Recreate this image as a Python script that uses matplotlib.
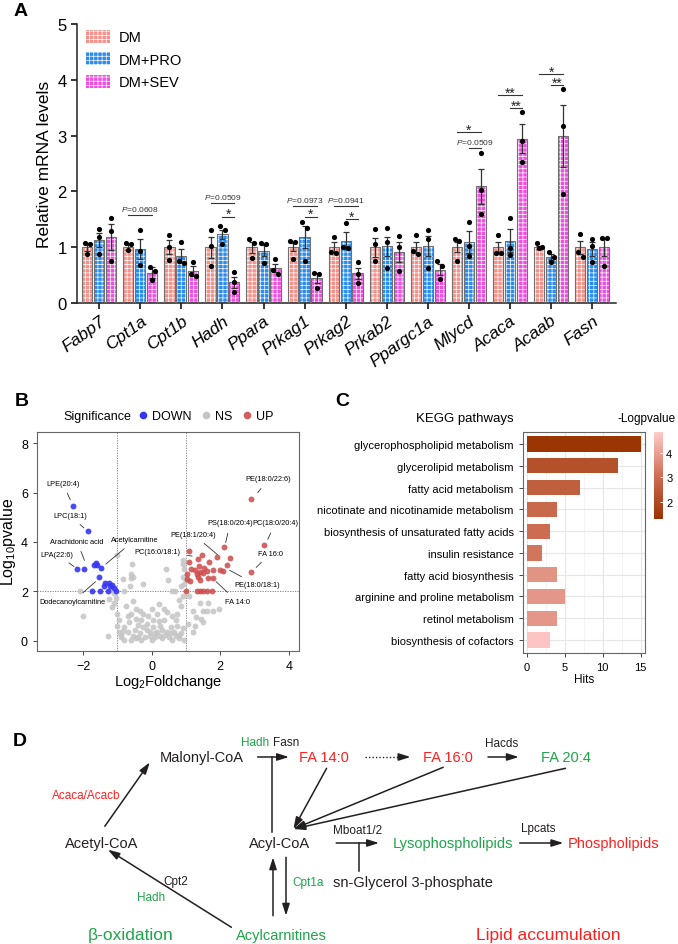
import matplotlib.pyplot as plt
import numpy as np
from matplotlib.patches import Patch
from matplotlib.lines import Line2D
from matplotlib.colors import LinearSegmentedColormap, Normalize
from matplotlib.cm import ScalarMappable

plt.rcParams['font.family'] = ['Liberation Sans', 'DejaVu Sans']
plt.rcParams['mathtext.fontset'] = 'custom'
plt.rcParams['mathtext.rm'] = 'Liberation Sans'
plt.rcParams['mathtext.it'] = 'Liberation Sans:italic'
plt.rcParams['hatch.linewidth'] = 0.5

# ---------------- panel A data ----------------
genes = ['Fabp7', 'Cpt1a', 'Cpt1b', 'Hadh', 'Ppara', 'Prkag1', 'Prkag2', 'Prkab2',
         'Ppargc1a', 'Mlycd', 'Acaca', 'Acaab', 'Fasn']

dm_mean = [1.0, 1.0, 1.0, 1.0, 1.0, 1.0, 1.0, 1.0, 1.0, 1.0, 1.0, 1.0, 1.0]
dm_sem = [0.07, 0.05, 0.13, 0.19, 0.1, 0.07, 0.09, 0.17, 0.1, 0.09, 0.09, 0.03, 0.12]
dm_pts = [[1.07, 1.05, 0.88], [1.07, 1.05, 0.95], [1.22, 1.0, 0.77], [1.3, 1.02, 0.67],
          [1.15, 1.07, 0.8], [1.12, 1.1, 0.78], [1.18, 0.92, 0.9], [1.33, 1.05, 0.75],
          [1.21, 0.93, 0.87], [1.15, 1.12, 0.76], [1.21, 0.89, 0.89], [1.07, 1.0, 0.98],
          [1.24, 0.91, 0.82]]

pro_mean = [1.13, 0.97, 0.84, 1.23, 0.94, 1.18, 1.12, 1.02, 1.02, 1.09, 1.12, 0.82, 0.97]
pro_sem = [0.12, 0.18, 0.13, 0.08, 0.1, 0.2, 0.16, 0.17, 0.18, 0.2, 0.21, 0.05, 0.12]
pro_pts = [[1.33, 1.18, 0.88], [1.3, 0.93, 0.68], [1.09, 0.75, 0.72], [1.38, 1.3, 1.05],
           [1.08, 1.05, 0.72], [1.45, 1.35, 0.75], [1.43, 1.0, 0.98], [1.35, 1.1, 0.62],
           [1.3, 1.14, 0.62], [1.46, 1.02, 0.85], [1.53, 0.98, 0.86], [0.91, 0.83, 0.73],
           [1.15, 1.02, 0.74]]

sev_mean = [1.18, 0.54, 0.57, 0.37, 0.63, 0.44, 0.53, 0.92, 0.6, 2.09, 2.94, 2.99, 1.0]
sev_sem = [0.23, 0.1, 0.09, 0.1, 0.07, 0.09, 0.1, 0.18, 0.1, 0.32, 0.26, 0.56, 0.15]
sev_pts = [[1.52, 1.29, 0.76], [0.65, 0.57, 0.42], [0.73, 0.52, 0.48], [0.55, 0.37, 0.2],
           [0.78, 0.6, 0.52], [0.54, 0.52, 0.27], [0.73, 0.52, 0.35], [1.2, 1.0, 0.58],
           [0.76, 0.67, 0.43], [2.68, 2.02, 1.6], [3.42, 2.91, 2.52], [3.84, 3.18, 1.95],
           [1.17, 1.17, 0.67]]

# (gene index, group from, group to, line height, label)
sig = [(1, 0, 2, 1.57, r'$P$=0.0608'),
       (3, 0, 2, 1.79, r'$P$=0.0509'), (3, 1, 2, 1.55, '*'),
       (5, 0, 2, 1.73, r'$P$=0.0973'), (5, 1, 2, 1.55, '*'),
       (6, 0, 2, 1.73, r'$P$=0.0941'), (6, 1, 2, 1.50, '*'),
       (9, 0, 2, 3.06, '*'), (9, 1, 2, 2.77, r'$P$=0.0509'),
       (10, 0, 2, 3.73, '**'), (10, 1, 2, 3.49, '**'),
       (11, 0, 2, 4.11, '*'), (11, 1, 2, 3.90, '**')]

# ---------------- panel B data ----------------
down_x = [-2.29, -1.87, -2.19, -1.97, -1.64, -1.6, -1.69, -1.47, -1.54, -1.36, -1.26, -1.16,
          -1.39, -1.22, -1.75, -1.51, -1.27, -1.04, -1.1]
down_y = [5.47, 4.43, 2.89, 2.89, 3.15, 3.08, 3.06, 2.94, 2.59, 2.34, 2.34, 2.27,
          2.23, 2.2, 2.01, 2.01, 2.01, 2.0, 2.15]

up_x = [2.9, 3.29, 2.9, 2.1, 1.92, 2.29, 2.21, 1.1, 1.46, 1.36, 1.68, 1.1, 1.39, 1.53, 1.16,
        1.8, 2.0, 2.07, 1.61, 1.41, 1.32, 1.02, 1.65, 1.78, 1.41, 1.12, 1.36, 1.02, 0.99,
        1.32, 1.41, 1.51, 1.61, 1.75, 1.5, 1.25]
up_y = [5.74, 3.89, 2.79, 3.78, 3.4, 3.36, 3.06, 3.62, 3.48, 3.31, 3.17, 3.2, 3.04, 2.94, 2.9,
        2.88, 2.88, 2.83, 2.83, 2.77, 2.7, 2.7, 2.53, 2.53, 2.47, 2.43, 2.6, 2.5, 2.02,
        2.02, 2.02, 2.02, 2.02, 2.02, 2.75, 2.85]

ns_x = [-2.1, -2.0, -1.27, -1.2, -1.1, -1.05, -1.15, -1.0, -0.95, -1.0, -0.95,
        -1.0, -0.83, -0.6, -0.62, -0.82, -0.6, -0.55, -0.25, -0.58, 0.43, 0.48, 0.68, 0.6,
        -0.75, -0.55, -0.45, -0.35, -0.45, -0.65, -0.8, -0.7, -0.55, -0.35, -0.15, -0.05,
        0.15, 0.25, 0.35, 0.45, 0.35, 0.15, 0.05, -0.15, -0.25, 0.05, 0.45, 0.65, 0.75,
        0.7, 0.75, 0.85, 0.8, 0.9, 0.95, 0.9, 0.95, 0.9, 0.92, 1.0, 0.85,
        1.2, 1.3, 1.5, 1.45, 1.6, 1.8, 1.95, 1.65, 1.4, 1.1, 1.25, 1.5, 1.2, 1.05,
        -0.9, -0.8, -0.6, -0.45, -0.3, -0.2, 0.0, 0.1, 0.3, 0.5, 0.6, 0.8, 0.85, 0.95,
        -0.85, -0.5, 0.3, 0.55, -0.4, 0.2, -0.1, 0.6, -0.25, 0.0, -0.6, -0.7, -0.3,
        0.25, 0.4, -0.05, 0.7, 0.9, -0.9, -0.4, 0.1, 0.55, 0.8, -1.1, -1.25, 0.2]
ns_y = [2.0, 1.0, 0.2, 2.05, 1.95, 1.75, 1.35, 1.1, 0.85, 0.6, 0.35,
        3.47, 2.5, 2.55, 2.2, 2.0, 2.7, 2.6, 2.3, 3.1, 2.9, 2.45, 2.03, 2.0,
        1.4, 1.6, 1.3, 1.2, 0.9, 0.75, 0.55, 0.35, 0.2, 0.3, 0.45, 0.2,
        0.35, 0.6, 0.85, 1.15, 1.3, 1.1, 0.85, 0.7, 0.55, 0.55, 0.35, 0.35, 0.6,
        0.85, 1.1, 1.4, 1.65, 1.8, 2.3, 2.6, 2.9, 3.1, 3.25, 2.45, 2.2,
        1.2, 0.95, 1.2, 0.9, 1.2, 1.2, 1.3, 1.55, 1.55, 1.8, 0.6, 0.75, 0.35, 0.7,
        0.15, 0.05, 0.05, 0.1, 0.05, 0.15, 0.05, 0.15, 0.1, 0.15, 0.05, 0.1, 0.3, 0.05,
        0.4, 0.45, 0.45, 0.55, 0.65, 0.8, 1.0, 1.0, 1.1, 1.3, 1.1, 1.0, 0.85,
        0.2, 0.25, 0.35, 0.2, 0.5, 0.25, 0.15, 0.3, 0.3, 0.25, 1.55, 1.7, 1.5]

# label, text position, arrow tip
b_labels = [('LPE(20:4)', (-2.6, 6.38), (-2.36, 5.65)),
            ('LPC(18:1)', (-2.39, 5.07), (-1.95, 4.53)),
            ('Arachidonic acid', (-2.18, 4.03), (-1.95, 3.2)),
            ('LPA(22:6)', (-2.76, 3.51), (-2.24, 2.97)),
            ('Acetylcarnitine', (-0.49, 4.09), (-1.37, 3.07)),
            ('Dodecanoylcarnitine', (-2.31, 1.58), (-1.61, 2.43)),
            ('PC(16:0/18:1)', (0.17, 3.62), (1.22, 3.42)),
            ('PE(18:1/20:4)', (1.22, 4.3), (1.95, 3.45)),
            ('PS(18:0/20:4)', (2.29, 4.77), (2.15, 3.92)),
            ('PE(18:0/22:6)', (3.41, 6.55), (3.07, 5.95)),
            ('PC(18:0/20:4)', (3.61, 4.77), (3.37, 4.05)),
            ('FA 16:0', (3.48, 3.55), (3.02, 2.93)),
            ('PE(18:0/18:1)', (3.07, 2.26), (2.24, 2.88)),
            ('FA 14:0', (2.5, 1.59), (1.85, 2.43))]

# ---------------- panel C data ----------------
pathways = ['glycerophospholipid metabolism', 'glycerolipid metabolism', 'fatty acid metabolism',
            'nicotinate and nicotinamide metabolism', 'biosynthesis of unsaturated fatty acids',
            'insulin resistance', 'fatty acid biosynthesis', 'arginine and proline metabolism',
            'retinol metabolism', 'biosynthesis of cofactors']
hits = [15, 12, 7, 4, 3, 2, 4, 5, 4, 3]
neglogp = [1.35, 2.2, 2.6, 2.9, 3.0, 3.2, 3.8, 3.85, 3.85, 4.75]

fig = plt.figure(figsize=(6.78, 9.45), dpi=100)
W, H = 678.0, 945.0


def fbox(l, t, r, b):
    return [l / W, 1 - b / H, (r - l) / W, (b - t) / H]


# ================= A =================
axA = fig.add_axes(fbox(77, 25, 616, 304))
x = np.arange(len(genes))
off, bw = 0.29, 0.25
groups = [('DM', dm_mean, dm_sem, dm_pts, '#f3928b'),
          ('DM+PRO', pro_mean, pro_sem, pro_pts, '#2a8cf0'),
          ('DM+SEV', sev_mean, sev_sem, sev_pts, '#ee4fe0')]
hatch = '++++'
handles = []
for k, (name, m, s, pts, col) in enumerate(groups):
    xs = x + (k - 1) * off
    axA.bar(xs, m, bw, color=col, edgecolor='white', hatch=hatch, lw=0, zorder=2)
    axA.bar(xs, m, bw, facecolor='none', edgecolor='#707070', lw=0.8, zorder=3)
    axA.errorbar(xs, m, yerr=s, fmt='none', ecolor='#333333', elinewidth=0.9,
                 capsize=2.5, capthick=0.9, zorder=4)
    for xi, p in zip(xs, pts):
        p = np.array(p)
        dx = np.zeros(3)
        if abs(p[0] - p[1]) < 0.1:
            dx[0], dx[1] = -0.06, 0.06
        if abs(p[1] - p[2]) < 0.1 and dx[1] == 0:
            dx[1], dx[2] = -0.06, 0.06
        axA.scatter(xi + dx, p, s=14, color='black', zorder=5, linewidths=0)
    handles.append(Patch(facecolor=col, edgecolor='white', hatch=hatch, lw=0, label=name))

for gi, g0, g1, yl, lab in sig:
    x0 = gi + (g0 - 1) * off
    x1 = gi + (g1 - 1) * off
    axA.plot([x0, x1], [yl, yl], color='#333333', lw=0.8)
    if lab.startswith('*'):
        axA.text((x0 + x1) / 2, yl - 0.03, lab, ha='center', va='baseline', fontsize=10,
                 color='#222222')
    else:
        axA.text((x0 + x1) / 2, yl + 0.04, lab, ha='center', va='bottom', fontsize=6.0,
                 color='#333333')

axA.set_xlim(-0.54, 12.58)
axA.set_ylim(0, 5)
axA.set_yticks([0, 1, 2, 3, 4, 5])
axA.set_xticks(x)
axA.set_xticklabels(genes, rotation=36, ha='right', va='top', rotation_mode='anchor',
                    fontsize=12.5, style='italic')
axA.tick_params(axis='y', labelsize=12, length=4, width=1.1)
axA.tick_params(axis='x', length=4, width=1.1, pad=3)
axA.set_ylabel('Relative mRNA levels', fontsize=12.5, labelpad=4)
for sp in ['top', 'right']:
    axA.spines[sp].set_visible(False)
for sp in ['left', 'bottom']:
    axA.spines[sp].set_linewidth(1.1)
    axA.spines[sp].set_color('#222222')
axA.legend(handles=handles, loc='upper left', bbox_to_anchor=(0.005, 1.0), frameon=False,
           fontsize=10.5, handlelength=1.7, handleheight=1.0, labelspacing=0.55,
           handletextpad=0.6, borderaxespad=0)

# ================= B =================
axB = fig.add_axes(fbox(37, 432.7, 299, 651.7))
axB.scatter(ns_x, ns_y, s=18, color='#c4c4c4', alpha=0.85, linewidths=0, zorder=2)
axB.scatter(down_x, down_y, s=18, color='#3535f5', alpha=0.9, linewidths=0, zorder=3)
axB.scatter(up_x, up_y, s=18, color='#cc4a4a', alpha=0.85, linewidths=0, zorder=3)
for v in [-1, 1]:
    axB.axvline(v, color='#777777', lw=0.6, ls=(0, (1.5, 1.5)), zorder=1)
axB.axhline(2, color='#777777', lw=0.6, ls=(0, (1.5, 1.5)), zorder=1)
for lab, tp, tip in b_labels:
    axB.annotate(lab, xy=tip, xytext=tp, fontsize=5.3, ha='center', va='center',
                 arrowprops=dict(arrowstyle='-', color='#333333', lw=0.6,
                                 shrinkA=3, shrinkB=1))
axB.set_xlim(-3.35, 4.3)
axB.set_ylim(-0.4, 8.46)
axB.set_xticks([-2, 0, 2, 4])
axB.set_yticks([0, 2, 4, 6, 8])
axB.tick_params(labelsize=9, length=3, width=0.7, color='#444444')
for sp in axB.spines.values():
    sp.set_color('#666666')
    sp.set_linewidth(0.8)
axB.set_xlabel(r'Log$_2$Foldchange', fontsize=10.5, labelpad=0)
axB.set_ylabel(r'Log$_{10}$pvalue', fontsize=11.5, labelpad=2)
fig.text(97 / W, 1 - 417 / H, 'Significance', ha='center', va='center', fontsize=9)
b_handles = [Line2D([], [], ls='', marker='o', ms=4.5, color='#3535f5', label='DOWN'),
             Line2D([], [], ls='', marker='o', ms=4.5, color='#c4c4c4', label='NS'),
             Line2D([], [], ls='', marker='o', ms=4.5, color='#d06060', label='UP')]
fig.legend(handles=b_handles, loc='center left', bbox_to_anchor=(138 / W, 1 - 417 / H),
           ncol=3, frameon=False, fontsize=9, handlelength=0.8, handletextpad=0.3,
           columnspacing=0.8, borderpad=0, borderaxespad=0)

# ================= C =================
axC = fig.add_axes(fbox(522.7, 432.7, 645, 654))
cmap = LinearSegmentedColormap.from_list('kegg', ['#993300', '#cf6f55', '#ffcccc'])
norm = Normalize(vmin=1.29, vmax=4.88)
yC = np.arange(len(pathways))
axC.barh(yC, hits, height=0.7, color=cmap(norm(np.array(neglogp))), zorder=3)
axC.set_yticks(yC)
axC.set_yticklabels(pathways, fontsize=7.8)
axC.set_ylim(9.6, -0.57)
axC.set_xlim(-0.53, 15.57)
axC.set_xticks([0, 5, 10, 15])
axC.set_xticks([2.5, 7.5, 12.5], minor=True)
axC.grid(True, which='major', color='#e6e6e6', lw=0.8, zorder=0)
axC.grid(True, which='minor', axis='x', color='#f0f0f0', lw=0.5, zorder=0)
axC.set_axisbelow(True)
axC.tick_params(axis='both', which='major', labelsize=8, length=3, width=0.7, color='#444444')
axC.tick_params(axis='x', which='minor', length=0)
for sp in axC.spines.values():
    sp.set_color('#666666')
    sp.set_linewidth(0.8)
axC.set_xlabel('Hits', fontsize=8.5, labelpad=1)
fig.text(465 / W, 1 - 419 / H, 'KEGG pathways', ha='center', va='center', fontsize=9.5)
fig.text(676 / W, 1 - 419 / H, '-Logpvalue', ha='right', va='center', fontsize=8.5)
cax = fig.add_axes(fbox(654, 432.7, 663.3, 520))
cb = fig.colorbar(ScalarMappable(norm=norm, cmap=cmap), cax=cax)
cb.set_ticks([2, 3, 4])
cb.outline.set_visible(False)
cax.tick_params(labelsize=8, length=2, width=0.6, color='white', direction='in', pad=2)

# ================= D =================
axD = fig.add_axes([0, 0, 1, 255 / H])
axD.set_xlim(0, W)
axD.set_ylim(H, 690)
axD.axis('off')
green, red, blk = '#1ea44a', '#ff1f1f', '#231f20'


def arrow(p0, p1, ls='-'):
    axD.annotate('', xy=p1, xytext=p0,
                 arrowprops=dict(arrowstyle='-|>,head_length=0.7,head_width=0.22', color=blk,
                                 lw=1.1, shrinkA=0, shrinkB=0, linestyle=ls))


main = 10.5
enz = 8.5
axD.text(201.7, 758, 'Malonyl-CoA', color=blk, fontsize=main, ha='center', va='center')
axD.text(254.6, 743, 'Hadh', color=green, fontsize=enz, ha='center', va='center')
axD.text(286, 743, 'Fasn', color=blk, fontsize=enz, ha='center', va='center')
arrow((257.6, 758), (289, 758))
axD.plot([272, 272], [758, 833], color=blk, lw=1.1)
axD.text(324, 758, 'FA 14:0', color=red, fontsize=main, ha='center', va='center')
axD.plot([364.6, 404], [758, 758], color=blk, lw=1.0, ls=(0, (1, 1.5)))
arrow((402, 758), (410.5, 758))
axD.text(447.6, 758, 'FA 16:0', color=red, fontsize=main, ha='center', va='center')
axD.text(502, 744, 'Hacds', color=blk, fontsize=enz, ha='center', va='center')
arrow((488, 758), (518.8, 758))
axD.text(565.5, 758, 'FA 20:4', color=green, fontsize=main, ha='center', va='center')
for src in [(326.6, 769.3), (443.2, 768.3), (565.5, 769.3)]:
    arrow(src, (293.4, 830))
axD.text(86.5, 796, 'Acaca/Acacb', color=red, fontsize=enz, ha='center', va='center')
arrow((104.8, 827.3), (149.8, 763.3))
axD.text(101.3, 844, 'Acetyl-CoA', color=blk, fontsize=main, ha='center', va='center')
axD.text(279.5, 844, 'Acyl-CoA', color=blk, fontsize=main, ha='center', va='center')
axD.text(358, 830.7, 'Mboat1/2', color=blk, fontsize=enz, ha='center', va='center')
arrow((336.2, 844), (379, 844))
axD.plot([359, 359], [844, 871.7], color=blk, lw=1.1)
axD.text(453.3, 844, 'Lysophospholipids', color=green, fontsize=main, ha='center', va='center')
axD.text(538, 829.3, 'Lpcats', color=blk, fontsize=enz, ha='center', va='center')
arrow((519.7, 844), (563.3, 844))
axD.text(613.5, 844, 'Phospholipids', color=red, fontsize=main, ha='center', va='center')
axD.text(412.7, 883.3, 'sn-Glycerol 3-phosphate', color=blk, fontsize=main, ha='center',
         va='center')
arrow((273, 916.7), (273, 858.3))
arrow((286, 858.3), (286, 916.7))
axD.text(307.9, 883.3, 'Cpt1a', color=green, fontsize=enz, ha='center', va='center')
arrow((231.4, 928.3), (107.9, 850.7))
axD.text(175.5, 881.7, 'Cpt2', color=blk, fontsize=enz, ha='center', va='center')
axD.text(150.7, 898.3, 'Hadh', color=green, fontsize=enz, ha='center', va='center')
axD.text(131, 936, 'β-oxidation', color=green, fontsize=12.5, ha='center', va='center')
axD.text(281.7, 936, 'Acylcarnitines', color=green, fontsize=main, ha='center', va='center')
axD.text(548, 936, 'Lipid accumulation', color=red, fontsize=12.5, ha='center', va='center')

# panel letters
for lab, px, py in [('A', 21, 11), ('B', 21.7, 401.7), ('C', 342.7, 401.7), ('D', 20, 741.7)]:
    fig.text(px / W, 1 - py / H, lab, fontsize=14, fontweight='bold', ha='center', va='center')

fig.savefig('out.png', dpi=100)
